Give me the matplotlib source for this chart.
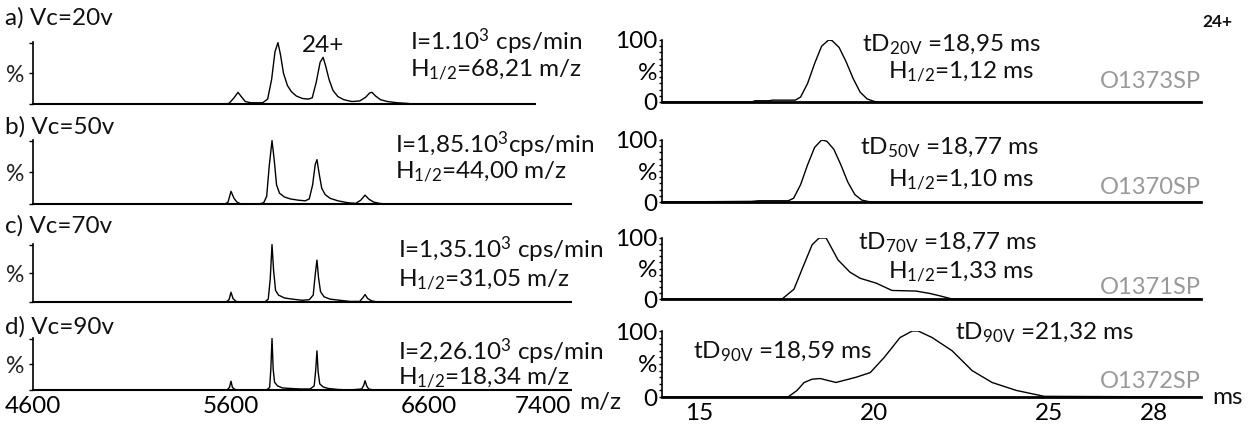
import matplotlib
matplotlib.use("Agg")
import matplotlib.pyplot as plt
from matplotlib.ticker import MultipleLocator

plt.rcParams['font.family'] = ['Lato', 'DejaVu Sans']
plt.rcParams['mathtext.fontset'] = 'custom'
plt.rcParams['mathtext.rm'] = 'Lato'
plt.rcParams['mathtext.it'] = 'Lato:italic'
plt.rcParams['mathtext.bf'] = 'Lato:bold'

W, H = 1248, 430
FS = 17.5

# ---------------- data: mass spectra (m/z, %) ----------------
ms_a_mz = [4600, 5560, 5590, 5615, 5635, 5652, 5672, 5700, 5760, 5785, 5805, 5822, 5837, 5850, 5865,
           5885, 5905, 5930, 5960, 5990, 6010, 6030, 6050, 6065, 6078, 6095, 6115, 6140, 6170, 6210,
           6250, 6280, 6300, 6312, 6330, 6355, 6390, 6440, 6490, 6520, 7135]
ms_a_int = [0, 0, 1, 10, 19, 12, 4, 2, 2, 8, 40, 85, 100, 80, 50,
            30, 20, 13, 9, 8, 10, 35, 68, 76, 62, 40, 22, 12, 7, 4,
            5, 11, 18, 19, 13, 7, 4, 2, 1, 0, 0]

ms_b_mz = [4600, 5570, 5585, 5600, 5615, 5630, 5650, 5740, 5765, 5780, 5793, 5807, 5818, 5830, 5845,
           5870, 5900, 5940, 5975, 5995, 6012, 6025, 6034, 6045, 6058, 6075, 6100, 6140, 6190, 6230,
           6255, 6277, 6295, 6320, 6350, 6380, 7317]
ms_b_int = [0, 0, 3, 20, 9, 3, 0, 0, 2, 12, 60, 100, 70, 30, 17,
            11, 8, 6, 5, 8, 30, 62, 70, 48, 25, 15, 9, 5, 2, 1,
            6, 14, 8, 3, 1, 0, 0]

ms_c_mz = [4600, 5575, 5590, 5600, 5610, 5625, 5650, 5770, 5788, 5798, 5807, 5815, 5825, 5840, 5870,
           5910, 5960, 5995, 6015, 6026, 6034, 6042, 6052, 6070, 6100, 6150, 6200, 6250, 6265, 6277,
           6290, 6310, 6340, 7317]
ms_c_int = [0, 0, 4, 17, 6, 1, 0, 0, 5, 40, 100, 55, 20, 12, 7,
            5, 3, 4, 12, 50, 73, 42, 18, 9, 5, 3, 1, 1, 7, 13,
            6, 2, 0, 0]

ms_d_mz = [4600, 5580, 5592, 5600, 5607, 5620, 5640, 5780, 5795, 5801, 5807, 5813, 5820, 5835, 5860,
           5900, 5950, 6000, 6020, 6028, 6034, 6040, 6048, 6065, 6090, 6140, 6200, 6260, 6270, 6277,
           6285, 6295, 6320, 7317]
ms_d_int = [0, 0, 5, 17, 5, 1, 0, 0, 5, 40, 100, 40, 15, 8, 4,
            3, 2, 2, 8, 40, 76, 35, 12, 6, 3, 1, 0, 2, 9, 18,
            8, 2, 0, 0]

# ---------------- data: arrival time distributions (ms, %) ----------------
atd_a_t = [13.94, 16.5, 16.6, 17.0, 17.1, 17.75, 17.9, 18.1, 18.3, 18.5, 18.7, 18.8, 19.0, 19.2,
           19.4, 19.6, 19.8, 20.0, 20.1, 29.34]
atd_a_i = [0, 0, 2, 2, 3, 3, 8, 30, 62, 90, 100, 99, 88, 65, 38, 16, 5, 1, 0, 0]

atd_b_t = [13.94, 16.5, 16.7, 17.55, 17.7, 17.9, 18.1, 18.3, 18.5, 18.65, 18.85, 19.05, 19.25,
           19.45, 19.65, 19.9, 29.34]
atd_b_i = [0, 1, 2, 2, 6, 28, 60, 88, 100, 98, 85, 60, 32, 12, 3, 0, 0]

atd_c_t = [13.94, 17.37, 17.71, 17.95, 18.23, 18.43, 18.63, 18.97, 19.31, 19.6, 20.06, 20.51,
           21.2, 21.6, 21.89, 22.23, 29.34]
atd_c_i = [0, 0, 16, 50, 89, 100, 100, 64, 44, 34, 26, 14, 13, 9, 5, 0, 0]

atd_d_t = [13.94, 17.54, 17.8, 18.0, 18.23, 18.46, 18.91, 19.49, 19.89, 20.29, 20.74, 21.09,
           21.26, 21.66, 22.23, 22.8, 23.37, 24.06, 24.86, 29.34]
atd_d_i = [0, 0, 10, 22, 27, 28, 22, 30, 37, 60, 90, 100, 100, 90, 70, 40, 22, 10, 1, 0]

ms_tick_pos = [4600, 5600, 6600, 7175]
ms_tick_labels = ['4600', '5600', '6600', '7400']
atd_ticks = [15, 20, 25, 28]
atd_tick_labels = ['15', '20', '25', '28']

panel_titles = ['a) Vc=20v', 'b) Vc=50v', 'c) Vc=70v', 'd) Vc=90v']
intensity_txt = [r'I=1.10$^{3}$ cps/min', r'I=1,85.10$^{3}$cps/min',
                 r'I=1,35.10$^{3}$ cps/min', r'I=2,26.10$^{3}$ cps/min']
hm_txt = [r'H$_{\mathrm{1/2}}$=68,21 m/z', r'H$_{\mathrm{1/2}}$=44,00 m/z',
          r'H$_{\mathrm{1/2}}$=31,05 m/z', r'H$_{\mathrm{1/2}}$=18,34 m/z']
td_txt = [r'tD$_{\mathrm{20V}}$ =18,95 ms', r'tD$_{\mathrm{50V}}$ =18,77 ms',
          r'tD$_{\mathrm{70V}}$ =18,77 ms', r'tD$_{\mathrm{90V}}$ =18,59 ms']
td2_txt = r'tD$_{\mathrm{90V}}$ =21,32 ms'
hms_txt = [r'H$_{\mathrm{1/2}}$=1,12 ms', r'H$_{\mathrm{1/2}}$=1,10 ms', r'H$_{\mathrm{1/2}}$=1,33 ms']
codes = ['O1373SP', 'O1370SP', 'O1371SP', 'O1372SP']

spectra = [(ms_a_mz, ms_a_int), (ms_b_mz, ms_b_int), (ms_c_mz, ms_c_int), (ms_d_mz, ms_d_int)]
atds = [(atd_a_t, atd_a_i), (atd_b_t, atd_b_i), (atd_c_t, atd_c_i), (atd_d_t, atd_d_i)]

fig = plt.figure(figsize=(W / 100, H / 100), dpi=100)
fig.patch.set_facecolor('white')


def box(x0, y0, x1, y1):
    return [x0 / W, 1 - y1 / H, (x1 - x0) / W, (y1 - y0) / H]


def ftext(x, y, s, **kw):
    kw.setdefault('fontsize', FS)
    kw.setdefault('color', '#111111')
    kw.setdefault('va', 'center')
    fig.text(x / W, 1 - y / H, s, **kw)


MZ_PER_PX = 5.05
left_boxes = [(33, 42, 535, 104), (33, 140, 571, 204), (33, 244, 571, 302), (33, 338, 571, 390)]
right_boxes = [(662, 40, 1201, 102), (662, 140, 1201, 202), (662, 238, 1201, 299), (662, 331, 1201, 397)]

for i in range(4):
    # ---- mass spectrum ----
    x0, y0, x1, y1 = left_boxes[i]
    ax = fig.add_axes(box(x0, y0, x1, y1))
    mz, inten = spectra[i]
    ax.plot(mz, inten, color='black', lw=1.0)
    ax.set_xlim(4600, 4600 + (x1 - x0) * MZ_PER_PX)
    ax.set_ylim(0, 101)
    for s in ['top', 'right']:
        ax.spines[s].set_visible(False)
    ax.spines['left'].set_linewidth(1.2)
    ax.spines['bottom'].set_linewidth(1.5)
    ax.set_yticks([0, 50, 100])
    ax.set_yticklabels(['', '%', ''], fontsize=FS - 1, color='#222222')
    ax.tick_params(axis='y', length=3, width=1, pad=3)
    if i == 3:
        ax.set_xticks(ms_tick_pos)
        ax.set_xticklabels(ms_tick_labels, fontsize=FS)
        ax.tick_params(axis='x', length=0, pad=4)
    else:
        ax.set_xticks([])

    # ---- arrival time distribution ----
    x0, y0, x1, y1 = right_boxes[i]
    ax2 = fig.add_axes(box(x0, y0, x1, y1))
    t, ai = atds[i]
    ax2.plot(t, ai, color='black', lw=1.0)
    ax2.set_xlim(13.94, 29.34)
    ax2.set_ylim(0, 100)
    for s in ['top', 'right']:
        ax2.spines[s].set_visible(False)
    ax2.spines['left'].set_linewidth(1.2)
    ax2.spines['bottom'].set_linewidth(2.0)
    ax2.set_yticks([0, 50, 100])
    ax2.set_yticklabels(['0', '%', '100'], fontsize=FS)
    ax2.yaxis.set_minor_locator(MultipleLocator(10))
    ax2.tick_params(axis='y', which='major', length=2, width=1, pad=1)
    ax2.tick_params(axis='y', which='minor', length=2, width=1)
    if i == 3:
        ax2.set_xticks(atd_ticks)
        ax2.set_xticklabels(atd_tick_labels, fontsize=FS)
        ax2.tick_params(axis='x', length=0, pad=4)
    else:
        ax2.set_xticks([])

# ---- annotations, left ----
title_y = [18, 127, 226, 327]
for i in range(4):
    ftext(5, title_y[i], panel_titles[i])

ftext(323, 45, '24+', ha='center')
int_pos = [(410, 42), (395, 145), (398, 250), (398, 352)]
hm_pos = [(410, 70), (395, 172), (398, 280), (398, 378)]
for i in range(4):
    ftext(int_pos[i][0], int_pos[i][1], intensity_txt[i])
    ftext(hm_pos[i][0], hm_pos[i][1], hm_txt[i])
ftext(600, 403, 'm/z', ha='center')

# ---- annotations, right ----
td_pos = [(862, 45), (860, 148), (858, 243), (693, 352)]
for i in range(4):
    ftext(td_pos[i][0], td_pos[i][1], td_txt[i])
ftext(955, 333, td2_txt)
hms_y = [72, 180, 272]
for i in range(3):
    ftext(1034, hms_y[i], hms_txt[i], ha='right')
code_y = [82, 187, 287, 381]
for i in range(4):
    ftext(1100, code_y[i], codes[i], color='#999999', fontsize=FS - 0.5)
ftext(1217, 22, '24+', ha='center', fontsize=12.5, fontweight='bold')
ftext(1228, 397, 'ms', ha='center')

fig.savefig('out.png', dpi=100, facecolor='white')
